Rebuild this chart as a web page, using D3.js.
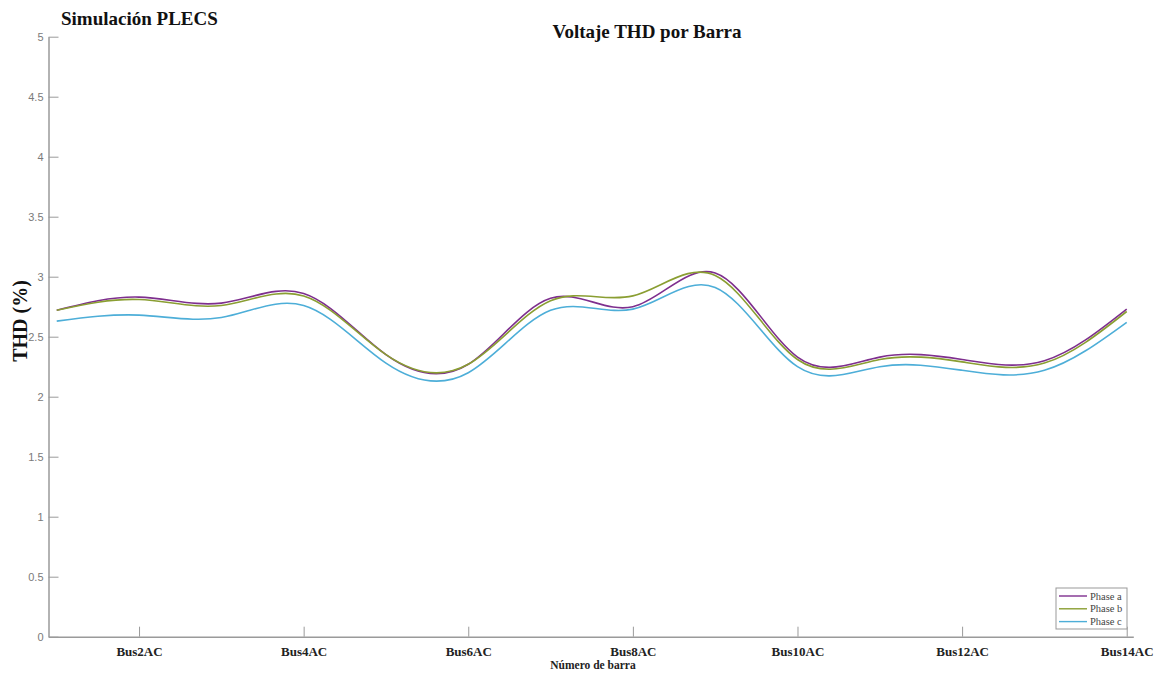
<!DOCTYPE html>
<html>
<head>
<meta charset="utf-8">
<script src="https://cdn.jsdelivr.net/npm/d3@7"></script>
<style>
  html, body { margin: 0; padding: 0; background: #fff; }
  svg { display: block; }
</style>
</head>
<body>
<svg id="chart" width="1157" height="674"></svg>
<script>
// Bus index (1..14) and the labelled ticks on the x axis
const buses = [1, 2, 3, 4, 5, 6, 7, 8, 9, 10, 11, 12, 13, 14];
const tickBuses = [2, 4, 6, 8, 10, 12, 14];
const tickLabels = ["Bus2AC", "Bus4AC", "Bus6AC", "Bus8AC", "Bus10AC", "Bus12AC", "Bus14AC"];
const yTicks = [0, 0.5, 1, 1.5, 2, 2.5, 3, 3.5, 4, 4.5, 5];

// Voltage THD (%) per bus, one array per phase
const phaseA = [2.72, 2.83, 2.78, 2.86, 2.35, 2.27, 2.82, 2.75, 3.03, 2.33, 2.33, 2.31, 2.30, 2.73];
const phaseB = [2.72, 2.81, 2.76, 2.84, 2.35, 2.27, 2.80, 2.84, 3.01, 2.31, 2.31, 2.29, 2.28, 2.71];
const phaseC = [2.63, 2.68, 2.66, 2.76, 2.28, 2.20, 2.72, 2.73, 2.91, 2.25, 2.25, 2.22, 2.22, 2.62];

const seriesNames = ["Phase a", "Phase b", "Phase c"];
const seriesColors = ["#7E2F8E", "#8A9E32", "#4DAED8"];
const series = [phaseA, phaseB, phaseC];

const svg = d3.select("#chart");

const x = d3.scaleLinear().domain([0.9, 14.08]).range([48.5, 1133.3]);
const y = d3.scaleLinear().domain([0, 5]).range([636.7, 36.7]);

const axisColor = "#9a9a9a";

// y axis (ticks pointing inward)
const gy = svg.append("g")
  .attr("transform", `translate(${x(0.9)},0)`)
  .call(d3.axisLeft(y).tickValues(yTicks).tickSizeInner(-10).tickSizeOuter(0).tickPadding(5)
        .tickFormat(d => String(d)));
gy.select(".domain").attr("stroke", axisColor).attr("stroke-width", 1.5);
gy.selectAll(".tick line").attr("stroke", axisColor).attr("stroke-width", 1);
gy.selectAll(".tick text")
  .attr("fill", "#7a7a7a")
  .style("font-family", "'Liberation Sans', Arial, sans-serif")
  .style("font-size", "11px");

// x axis
const gx = svg.append("g")
  .attr("transform", `translate(0,${y(0)})`)
  .call(d3.axisBottom(x).tickValues(tickBuses).tickSizeInner(-10).tickSizeOuter(0).tickPadding(10)
        .tickFormat((d, i) => tickLabels[i]));
gx.select(".domain").attr("stroke", axisColor).attr("stroke-width", 1.5);
gx.selectAll(".tick line").attr("stroke", axisColor).attr("stroke-width", 1);
gx.selectAll(".tick text")
  .attr("fill", "#222")
  .style("font-family", "'Liberation Serif', 'Times New Roman', serif")
  .style("font-weight", "bold")
  .style("font-size", "13px");

// THD curves
const line = d3.line()
  .x((d, i) => x(buses[i]))
  .y(d => y(d))
  .curve(d3.curveNatural);

svg.append("g").selectAll("path")
  .data(series)
  .join("path")
  .attr("d", line)
  .attr("fill", "none")
  .attr("stroke", (d, i) => seriesColors[i])
  .attr("stroke-width", 1.6);

// Titles and axis labels
const serif = "'Liberation Serif', 'Times New Roman', serif";
svg.append("text")
  .attr("x", 61).attr("y", 25)
  .style("font-family", serif).style("font-weight", "bold").style("font-size", "19px")
  .attr("fill", "#111")
  .text("Simulación PLECS");

svg.append("text")
  .attr("x", 647).attr("y", 38)
  .attr("text-anchor", "middle")
  .style("font-family", serif).style("font-weight", "bold").style("font-size", "19px")
  .attr("fill", "#111")
  .text("Voltaje THD por Barra");

svg.append("text")
  .attr("transform", "translate(27,321) rotate(-90)")
  .attr("text-anchor", "middle")
  .style("font-family", serif).style("font-weight", "bold").style("font-size", "20px")
  .attr("fill", "#111")
  .text("THD (%)");

svg.append("text")
  .attr("x", 593).attr("y", 669)
  .attr("text-anchor", "middle")
  .style("font-family", serif).style("font-weight", "bold").style("font-size", "11.5px")
  .attr("fill", "#222")
  .text("Número de barra");

// Legend
const legend = svg.append("g").attr("transform", "translate(1056,588)");
legend.append("rect")
  .attr("width", 71).attr("height", 41)
  .attr("fill", "#fff").attr("stroke", "#999").attr("stroke-width", 1);
const rows = legend.selectAll("g.row")
  .data(seriesNames)
  .join("g")
  .attr("class", "row")
  .attr("transform", (d, i) => `translate(0,${8 + i * 12.8})`);
rows.append("line")
  .attr("x1", 3).attr("x2", 31).attr("y1", 0).attr("y2", 0)
  .attr("stroke", (d, i) => seriesColors[i]).attr("stroke-width", 1.4);
rows.append("text")
  .attr("x", 34).attr("y", 3.5)
  .style("font-family", serif).style("font-size", "10.5px")
  .attr("fill", "#444")
  .text(d => d);
</script>
</body>
</html>
